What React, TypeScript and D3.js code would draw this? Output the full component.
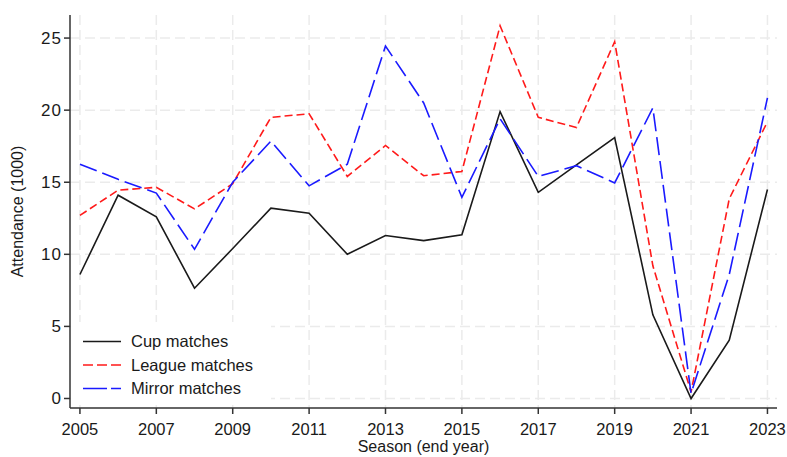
import React from "react";
import * as d3 from "d3";

const W = 787;
const H = 457;

const seasons = [2005, 2006, 2007, 2008, 2009, 2010, 2011, 2012, 2013, 2014, 2015, 2016, 2017, 2018, 2019, 2020, 2021, 2022, 2023];
const cupMatches = [8.6, 14.1, 12.6, 7.65, 10.4, 13.2, 12.85, 10.0, 11.3, 10.95, 11.35, 19.9, 14.3, 16.2, 18.1, 5.8, 0.0, 4.05, 14.5];
const leagueMatches = [12.7, 14.45, 14.65, 13.15, 14.9, 19.5, 19.75, 15.4, 17.55, 15.45, 15.75, 25.85, 19.5, 18.8, 24.75, 9.2, 0.45, 13.85, 19.2];
const mirrorMatches = [16.25, 15.2, 14.25, 10.35, 15.0, 17.85, 14.75, 16.25, 24.45, 20.5, 13.95, 19.4, 15.4, 16.15, 14.95, 20.15, 0.35, 8.6, 20.85];
const xTicks = [2005, 2007, 2009, 2011, 2013, 2015, 2017, 2019, 2021, 2023];
const yTicks = [0, 5, 10, 15, 20, 25];
const seriesNames = ["Cup matches", "League matches", "Mirror matches"];

const FONT = "'Liberation Sans', Arial, Helvetica, sans-serif";

const styles = [
  { color: "#1a1a1a", dash: "none" },
  { color: "#ff1a1a", dash: "8,4" },
  { color: "#1a1aff", dash: "18,6" },
];

export default function App() {
  const left = 70;
  const right = 777;
  const top = 15;
  const bottom = 408;

  const x = d3.scaleLinear().domain([2004.74, 2023.25]).range([left, right]);
  const y = d3.scaleLinear().domain([-0.66, 26.6]).range([bottom, top]);

  const line = d3
    .line<number>()
    .x((_, i) => x(seasons[i]))
    .y(d => y(d));

  const allSeries = [cupMatches, leagueMatches, mirrorMatches];

  const legendX = 83;
  const legendRows = [341.5, 365, 388.5];

  return (
    <svg
      width={W}
      height={H}
      style={{ position: "absolute", left: 0, top: 0, background: "#fff" }}
      fontFamily={FONT}
    >
      <rect x={0} y={0} width={W} height={H} fill="#fff" />

      {/* grid */}
      <g stroke="#ebebeb" strokeWidth={1.5} strokeDasharray="10,5">
        {yTicks.map(t => (
          <line key={"gy" + t} x1={left} x2={right} y1={y(t)} y2={y(t)} />
        ))}
        {xTicks.map(t => (
          <line key={"gx" + t} x1={x(t)} x2={x(t)} y1={top} y2={bottom} />
        ))}
      </g>

      {/* series */}
      {allSeries.map((s, i) => (
        <path
          key={seriesNames[i]}
          d={line(s) || ""}
          fill="none"
          stroke={styles[i].color}
          strokeWidth={1.6}
          strokeDasharray={styles[i].dash}
          strokeLinejoin="miter"
        />
      ))}

      {/* legend */}
      <rect x={left + 1} y={322} width={200} height={81} fill="#fff" />
      {seriesNames.map((name, i) => (
        <g key={"lg" + name}>
          <line
            x1={legendX}
            x2={legendX + 38}
            y1={legendRows[i]}
            y2={legendRows[i]}
            stroke={styles[i].color}
            strokeWidth={1.6}
            strokeDasharray={i === 1 ? "10,4" : i === 2 ? "24,4" : "none"}
          />
          <text x={131} y={legendRows[i]} dy="0.35em" fontSize={16.5} fill="#1a1a1a">
            {name}
          </text>
        </g>
      ))}

      {/* axes */}
      <g stroke="#333" strokeWidth={1.5}>
        <line x1={left} x2={left} y1={top} y2={bottom} />
        <line x1={left} x2={right} y1={bottom} y2={bottom} />
        {yTicks.map(t => (
          <line key={"ty" + t} x1={left - 6} x2={left} y1={y(t)} y2={y(t)} />
        ))}
        {xTicks.map(t => (
          <line key={"tx" + t} x1={x(t)} x2={x(t)} y1={bottom} y2={bottom + 6} />
        ))}
      </g>
      {yTicks.map(t => (
        <text
          key={"ly" + t}
          x={left - 8}
          y={y(t)}
          dy="0.35em"
          textAnchor="end"
          fontSize={17}
          letterSpacing={1}
          fill="#1a1a1a"
        >
          {t}
        </text>
      ))}
      {xTicks.map(t => (
        <text
          key={"lx" + t}
          x={x(t)}
          y={435}
          textAnchor="middle"
          fontSize={16.5}
          fill="#1a1a1a"
        >
          {t}
        </text>
      ))}

      <text
        x={(left + right) / 2}
        y={452}
        textAnchor="middle"
        fontSize={16}
        fill="#1a1a1a"
      >
        Season (end year)
      </text>
      <text
        transform={`translate(23,${(top + bottom) / 2}) rotate(-90)`}
        textAnchor="middle"
        fontSize={16}
        fill="#1a1a1a"
      >
        Attendance (1000)
      </text>
    </svg>
  );
}
